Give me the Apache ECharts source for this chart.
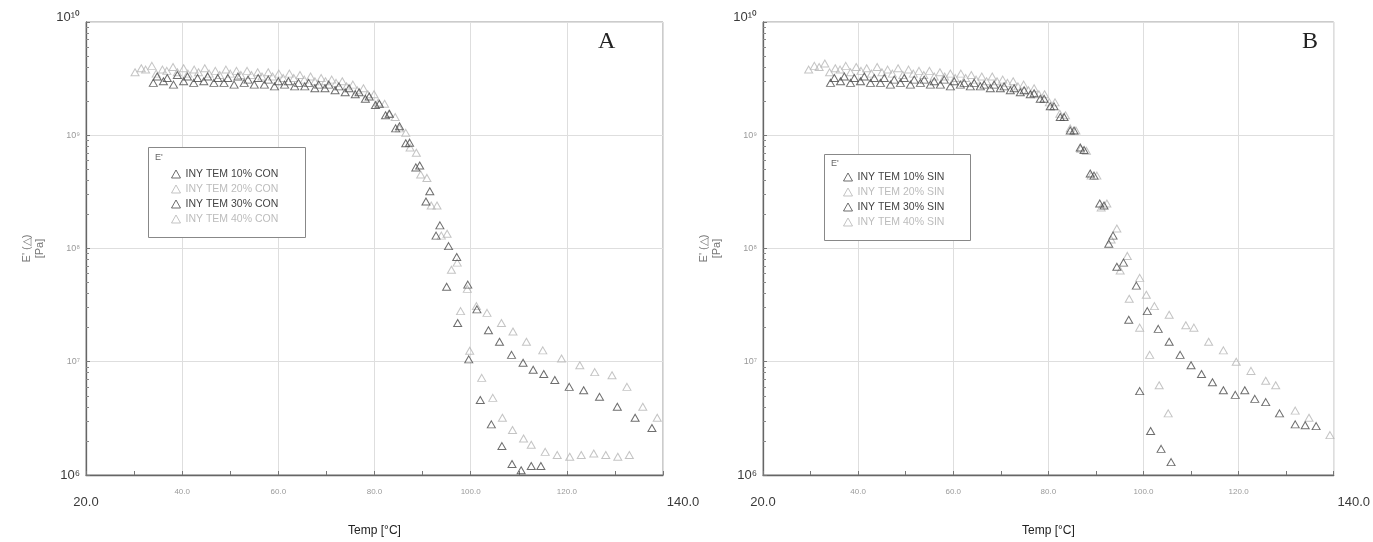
<!DOCTYPE html>
<html>
<head>
<meta charset="utf-8">
<script src="https://cdn.jsdelivr.net/npm/echarts@6/dist/echarts.min.js"></script>
<style>
  html, body { margin: 0; padding: 0; background: #ffffff; }
  #chart { width: 1373px; height: 542px; }
</style>
</head>
<body>
<div id="chart"></div>
<script>
// Temperature axis ticks (°C) and modulus decades (Pa)
const tempTicks = [20, 40, 60, 80, 100, 120, 140];
const modulusDecades = [1e6, 1e7, 1e8, 1e9, 1e10];
const minorMultipliers = [2, 3, 4, 5, 6, 7, 8, 9];

const namesCon = ['INY TEM 10% CON', 'INY TEM 20% CON', 'INY TEM 30% CON', 'INY TEM 40% CON'];
const namesSin = ['INY TEM 10% SIN', 'INY TEM 20% SIN', 'INY TEM 30% SIN', 'INY TEM 40% SIN'];

// Storage modulus E' [Pa] against temperature [°C] — panel A (CON)
const con10 = [[34.0,2.9e9],[36.1,3.0e9],[38.2,2.8e9],[40.3,3.0e9],[42.4,2.9e9],[44.5,3.0e9],[46.6,2.9e9],[48.7,2.9e9],[50.8,2.8e9],[52.9,2.9e9],[55.0,2.8e9],[57.1,2.8e9],[59.2,2.7e9],[61.3,2.8e9],[63.4,2.7e9],[65.5,2.7e9],[67.6,2.6e9],[69.7,2.6e9],[71.8,2.5e9],[73.9,2.4e9],[76.0,2.3e9],[78.1,2.1e9],[80.2,1.85e9],[82.3,1.5e9],[84.4,1.15e9],[86.5,8.5e8],[88.6,5.2e8],[90.7,2.6e8],[92.8,1.3e8],[95.0,4.6e7],[97.3,2.2e7],[99.6,1.05e7],[102.0,4.6e6],[104.3,2.8e6],[106.5,1.8e6],[108.6,1.25e6],[110.5,1.1e6],[112.6,1.2e6],[114.6,1.2e6]];
const con20 = [[30.2,3.6e9],[32.4,3.8e9],[34.6,3.5e9],[36.8,3.7e9],[39.0,3.6e9],[41.2,3.5e9],[43.4,3.6e9],[45.6,3.5e9],[47.8,3.4e9],[50.0,3.5e9],[52.2,3.4e9],[54.4,3.4e9],[56.6,3.3e9],[58.8,3.3e9],[61.0,3.2e9],[63.2,3.2e9],[65.4,3.1e9],[67.6,3.0e9],[69.8,3.0e9],[72.0,2.9e9],[74.2,2.7e9],[76.4,2.5e9],[78.6,2.3e9],[80.8,1.95e9],[83.0,1.55e9],[85.2,1.15e9],[87.4,7.8e8],[89.6,4.5e8],[91.8,2.4e8],[93.9,1.3e8],[96.0,6.5e7],[97.9,2.8e7],[99.8,1.25e7],[102.3,7.2e6],[104.6,4.8e6],[106.6,3.2e6],[108.7,2.5e6],[111.0,2.1e6],[112.6,1.85e6],[115.5,1.6e6],[118.0,1.5e6],[120.6,1.45e6],[123.0,1.5e6],[125.6,1.55e6],[128.1,1.5e6],[130.6,1.45e6],[133.0,1.5e6]];
const con30 = [[34.8,3.3e9],[36.9,3.2e9],[39.0,3.4e9],[41.1,3.3e9],[43.2,3.2e9],[45.3,3.3e9],[47.4,3.2e9],[49.5,3.2e9],[51.6,3.3e9],[53.7,3.1e9],[55.8,3.2e9],[57.9,3.1e9],[60.0,3.0e9],[62.1,3.0e9],[64.2,2.9e9],[66.3,2.9e9],[68.4,2.8e9],[70.5,2.8e9],[72.6,2.7e9],[74.7,2.6e9],[76.8,2.4e9],[78.9,2.2e9],[81.0,1.9e9],[83.1,1.55e9],[85.2,1.2e9],[87.3,8.6e8],[89.4,5.4e8],[91.5,3.2e8],[93.6,1.6e8],[95.4,1.05e8],[97.1,8.4e7],[99.4,4.8e7],[101.3,2.9e7],[103.7,1.9e7],[106.0,1.5e7],[108.5,1.15e7],[110.9,9.8e6],[113.0,8.5e6],[115.2,7.8e6],[117.5,6.9e6],[120.5,6.0e6],[123.5,5.6e6],[126.8,4.9e6],[130.5,4.0e6],[134.2,3.2e6],[137.7,2.6e6]];
const con40 = [[31.5,3.9e9],[33.7,4.1e9],[35.9,3.8e9],[38.1,4.0e9],[40.3,3.9e9],[42.5,3.8e9],[44.7,3.9e9],[46.9,3.7e9],[49.1,3.8e9],[51.3,3.7e9],[53.5,3.7e9],[55.7,3.6e9],[57.9,3.6e9],[60.1,3.5e9],[62.3,3.5e9],[64.5,3.4e9],[66.7,3.3e9],[68.9,3.2e9],[71.1,3.1e9],[73.3,3.0e9],[75.5,2.8e9],[77.7,2.6e9],[79.9,2.3e9],[82.1,1.9e9],[84.3,1.45e9],[86.5,1.05e9],[88.7,7.0e8],[90.9,4.2e8],[93.0,2.4e8],[95.1,1.35e8],[97.2,7.5e7],[99.3,4.4e7],[101.2,3.1e7],[103.4,2.7e7],[106.4,2.2e7],[108.8,1.85e7],[111.6,1.5e7],[115.0,1.26e7],[118.9,1.07e7],[122.7,9.3e6],[125.8,8.1e6],[129.4,7.6e6],[132.5,6.0e6],[135.8,4.0e6],[138.8,3.2e6]];

// Storage modulus E' [Pa] against temperature [°C] — panel B (SIN)
const sin10 = [[34.2,2.9e9],[36.3,3.0e9],[38.4,2.9e9],[40.5,3.0e9],[42.6,2.9e9],[44.7,2.9e9],[46.8,2.8e9],[48.9,2.9e9],[51.0,2.8e9],[53.1,2.9e9],[55.2,2.8e9],[57.3,2.8e9],[59.4,2.7e9],[61.5,2.8e9],[63.6,2.7e9],[65.7,2.7e9],[67.8,2.6e9],[69.9,2.6e9],[72.0,2.5e9],[74.1,2.4e9],[76.2,2.3e9],[78.3,2.1e9],[80.4,1.8e9],[82.5,1.45e9],[84.6,1.1e9],[86.7,7.8e8],[88.8,4.6e8],[90.8,2.5e8],[92.7,1.1e8],[94.4,6.9e7],[96.9,2.35e7],[99.2,5.5e6],[101.5,2.45e6],[103.7,1.7e6],[105.8,1.3e6]];
const sin20 = [[29.6,3.8e9],[31.8,4.0e9],[34.0,3.6e9],[36.2,3.8e9],[38.4,3.6e9],[40.6,3.7e9],[42.8,3.5e9],[45.0,3.6e9],[47.2,3.5e9],[49.4,3.4e9],[51.6,3.5e9],[53.8,3.4e9],[56.0,3.3e9],[58.2,3.3e9],[60.4,3.2e9],[62.6,3.2e9],[64.8,3.1e9],[67.0,3.0e9],[69.2,3.0e9],[71.4,2.9e9],[73.6,2.7e9],[75.8,2.5e9],[78.0,2.3e9],[80.2,1.95e9],[82.4,1.55e9],[84.6,1.15e9],[86.8,7.6e8],[89.0,4.4e8],[91.1,2.3e8],[93.2,1.2e8],[95.1,6.4e7],[97.0,3.6e7],[99.2,2.0e7],[101.3,1.15e7],[103.3,6.2e6],[105.2,3.5e6]];
const sin30 = [[35.0,3.2e9],[37.1,3.3e9],[39.2,3.2e9],[41.3,3.3e9],[43.4,3.2e9],[45.5,3.2e9],[47.6,3.1e9],[49.7,3.2e9],[51.8,3.1e9],[53.9,3.1e9],[56.0,3.0e9],[58.1,3.1e9],[60.2,3.0e9],[62.3,2.9e9],[64.4,2.9e9],[66.5,2.8e9],[68.6,2.8e9],[70.7,2.7e9],[72.8,2.6e9],[74.9,2.5e9],[77.0,2.35e9],[79.1,2.1e9],[81.2,1.8e9],[83.3,1.45e9],[85.4,1.1e9],[87.5,7.4e8],[89.6,4.4e8],[91.7,2.4e8],[93.6,1.3e8],[95.8,7.5e7],[98.5,4.7e7],[100.8,2.8e7],[103.1,1.95e7],[105.4,1.5e7],[107.7,1.15e7],[110.0,9.3e6],[112.2,7.8e6],[114.5,6.6e6],[116.8,5.6e6],[119.3,5.1e6],[121.3,5.6e6],[123.4,4.7e6],[125.7,4.4e6],[128.6,3.5e6],[131.9,2.8e6],[134.0,2.75e6],[136.3,2.7e6]];
const sin40 = [[30.8,4.1e9],[33.0,4.3e9],[35.2,3.9e9],[37.4,4.1e9],[39.6,4.0e9],[41.8,3.9e9],[44.0,4.0e9],[46.2,3.8e9],[48.4,3.9e9],[50.6,3.8e9],[52.8,3.7e9],[55.0,3.7e9],[57.2,3.6e9],[59.4,3.5e9],[61.6,3.5e9],[63.8,3.4e9],[66.0,3.3e9],[68.2,3.3e9],[70.4,3.1e9],[72.6,3.0e9],[74.8,2.8e9],[77.0,2.6e9],[79.2,2.3e9],[81.4,1.95e9],[83.6,1.5e9],[85.8,1.1e9],[88.0,7.3e8],[90.2,4.4e8],[92.3,2.5e8],[94.4,1.5e8],[96.6,8.6e7],[99.2,5.5e7],[100.6,3.9e7],[102.3,3.1e7],[105.4,2.6e7],[108.9,2.1e7],[110.6,2.0e7],[113.7,1.5e7],[116.8,1.26e7],[119.5,1.0e7],[122.6,8.3e6],[125.7,6.8e6],[127.8,6.2e6],[131.9,3.7e6],[134.8,3.2e6],[139.2,2.25e6]];

const darkColor = '#4a4a4a';
const lightColor = '#b5b5b5';
const labelFont = 'Liberation Sans, Arial, sans-serif';

// log-axis minor tick positions: the 2..9 subdivisions of each decade
const yMinorTicks = [];
modulusDecades.slice(0, -1).forEach(d => minorMultipliers.forEach(m => yMinorTicks.push(m * d)));

const supDigits = { '0': '\u2070', '1': '\u00B9', '6': '\u2076', '7': '\u2077', '8': '\u2078', '9': '\u2079' };
function powerLabel(v) {
  const e = Math.round(Math.log10(v));
  const sup = String(e).split('').map(c => supDigits[c]).join('');
  if (e === 10) return '{top|10' + sup + '}';
  if (e === 6) return '{big|10' + sup + '}';
  return '{sm|10' + sup + '}';
}
function tempLabel(v) {
  const s = v.toFixed(1);
  if (v === tempTicks[0]) return '{big|' + s + '}';
  if (v === tempTicks[tempTicks.length - 1]) return '{end|' + s + '}';
  return '{sm|' + s + '}';
}

const grids = [
  { left: 86, top: 22, width: 577, height: 455 },
  { left: 763, top: 22, width: 579, height: 455 }
];

function xAxisFor(i) {
  return {
    type: 'value', gridIndex: i, min: 20, max: 140, interval: 20,
    axisLine: { show: true, lineStyle: { color: '#666', width: 1.3 } },
    axisTick: { show: true, inside: true, length: 4, lineStyle: { color: '#777' } },
    minorTick: { show: true, splitNumber: 2, length: 4, lineStyle: { color: '#777' } },
    splitLine: { show: true, lineStyle: { color: '#dedede', width: 1 } },
    axisLabel: {
      margin: 13, formatter: tempLabel,
      rich: {
        sm: { fontSize: 8, color: '#9a9a9a', fontFamily: labelFont },
        big: { fontSize: 13, color: '#3a3a3a', fontFamily: labelFont, padding: [8, 0, 0, 0] },
        end: { fontSize: 13, color: '#3a3a3a', fontFamily: labelFont, padding: [8, 0, 0, 40] }
      }
    },
    name: 'Temp [°C]', nameLocation: 'middle', nameGap: 50,
    nameTextStyle: { fontSize: 12, color: '#222', fontFamily: labelFont }
  };
}
function yAxisFor(i) {
  return {
    type: 'log', logBase: 10, gridIndex: i, min: 1e6, max: 1e10,
    axisLine: { show: true, lineStyle: { color: '#666', width: 1.3 } },
    axisTick: { show: true, inside: true, length: 4, lineStyle: { color: '#777' } },
    splitLine: { show: true, lineStyle: { color: '#dedede', width: 1 } },
    axisLabel: {
      margin: 6, formatter: powerLabel,
      rich: {
        sm: { fontSize: 9, color: '#9a9a9a', fontFamily: labelFont },
        big: { fontSize: 13, color: '#3a3a3a', fontFamily: labelFont },
        top: { fontSize: 13, color: '#3a3a3a', fontFamily: labelFont, padding: [0, 0, 10, 0] }
      }
    },
    name: "E' (\u25B3)\n[Pa]", nameLocation: 'middle', nameRotate: 90, nameGap: 40,
    nameTextStyle: { fontSize: 11, color: '#777', fontFamily: labelFont, lineHeight: 13 }
  };
}
// overlay axis carrying only the in-between log ticks
function yMinorAxisFor(i) {
  return {
    type: 'log', logBase: 10, gridIndex: i, min: 1e6, max: 1e10, position: 'left',
    axisLine: { show: false },
    axisTick: { show: true, inside: true, length: 3, customValues: yMinorTicks, lineStyle: { color: '#888' } },
    axisLabel: { show: false },
    splitLine: { show: false }
  };
}

function scatter(name, data, dark, gi) {
  return {
    type: 'scatter', name: name, data: data,
    xAxisIndex: gi, yAxisIndex: gi,
    symbol: 'triangle', symbolSize: [8, 7],
    itemStyle: { color: 'rgba(0,0,0,0)', borderColor: dark ? darkColor : lightColor, borderWidth: 1 },
    emphasis: { disabled: true },
    z: dark ? 3 : 2
  };
}

function legendFor(names, left, top) {
  return {
    orient: 'vertical', left: left, top: top, padding: 0, z: 20,
    itemWidth: 9, itemHeight: 8, itemGap: 3, icon: 'triangle',
    selectedMode: false,
    data: names.map((n, k) => {
      const dark = (k % 2 === 0);
      return {
        name: n,
        itemStyle: { color: 'rgba(0,0,0,0)', borderColor: dark ? darkColor : lightColor, borderWidth: 1 },
        textStyle: { color: dark ? '#444' : '#bcbcbc', fontSize: 10.5, lineHeight: 12, fontFamily: labelFont }
      };
    })
  };
}

const chart = echarts.init(document.getElementById('chart'), null, { renderer: 'canvas' });
chart.setOption({
  animation: false,
  backgroundColor: '#ffffff',
  grid: grids.map(g => Object.assign({ show: true, borderColor: '#999', borderWidth: 1, backgroundColor: 'transparent' }, g)),
  xAxis: [xAxisFor(0), xAxisFor(1)],
  yAxis: [yAxisFor(0), yAxisFor(1), yMinorAxisFor(0), yMinorAxisFor(1)],
  legend: [legendFor(namesCon, 171, 168), legendFor(namesSin, 843, 171)],
  graphic: [
    { type: 'rect', left: 148, top: 147, z: 1, shape: { width: 157, height: 90 }, style: { fill: '#fff', stroke: '#888', lineWidth: 1 } },
    { type: 'text', left: 155, top: 153, z: 2, style: { text: "E'", fontSize: 9, fill: '#666', fontFamily: labelFont } },
    { type: 'rect', left: 824, top: 154, z: 1, shape: { width: 146, height: 86 }, style: { fill: '#fff', stroke: '#888', lineWidth: 1 } },
    { type: 'text', left: 831, top: 159, z: 2, style: { text: "E'", fontSize: 9, fill: '#666', fontFamily: labelFont } },
    { type: 'text', left: 598, top: 30, z: 6, style: { text: 'A', fontSize: 24, fill: '#222', fontFamily: 'Liberation Serif, serif' } },
    { type: 'text', left: 1302, top: 30, z: 6, style: { text: 'B', fontSize: 24, fill: '#222', fontFamily: 'Liberation Serif, serif' } }
  ],
  series: [
    scatter(namesCon[0], con10, true, 0),
    scatter(namesCon[1], con20, false, 0),
    scatter(namesCon[2], con30, true, 0),
    scatter(namesCon[3], con40, false, 0),
    scatter(namesSin[0], sin10, true, 1),
    scatter(namesSin[1], sin20, false, 1),
    scatter(namesSin[2], sin30, true, 1),
    scatter(namesSin[3], sin40, false, 1)
  ]
});
</script>
</body>
</html>
